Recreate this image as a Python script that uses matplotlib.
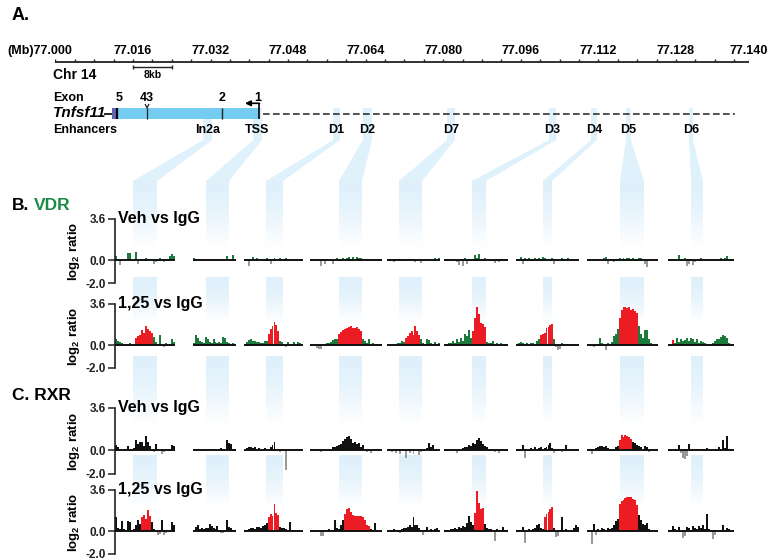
import numpy as np
import matplotlib
matplotlib.use('Agg')
import matplotlib.pyplot as plt
from matplotlib.patches import Polygon, Rectangle

plt.rcParams['font.family'] = ['Liberation Sans', 'DejaVu Sans']
plt.rcParams['font.weight'] = 'bold'
plt.rcParams['mathtext.fontset'] = 'custom'
plt.rcParams['mathtext.rm'] = 'Liberation Sans:bold'
plt.rcParams['mathtext.it'] = 'Liberation Sans:italic:bold'
plt.rcParams['mathtext.bf'] = 'Liberation Sans:bold'

W, H = 773, 560

# ---- genomic ruler (kb from 77.000 Mb) ----
ruler_kb = [0, 4, 8, 12, 16, 20, 24, 28, 32, 36, 40, 44, 48, 52, 56, 60, 64, 68, 72, 76,
            80, 84, 88, 92, 96, 100, 104, 108, 112, 116, 120, 124, 128, 132, 136, 140, 143.0]
label_kb = [0, 16, 32, 48, 64, 80, 96, 112, 128, 143.0]
label_txt = ['(Mb)77.000', '77.016', '77.032', '77.048', '77.064', '77.080', '77.096',
             '77.112', '77.128', '77.140']
scale_kb = [16, 24]

# ---- gene model (kb) ----
gene_kb = [11.7, 42.0]
exon5_block = [11.7, 12.8]
exon_marks = [12.8, 18.9, 34.4, 42.0]
exon_names = ['5', '43', '2', '1']
exon_label_kb = [13.1, 18.9, 34.4, 41.8]
dash_end_kb = 140.2

# ---- enhancers (kb) ----
enh_names = ['In2a', 'TSS', 'D1', 'D2', 'D7', 'D3', 'D4', 'D5', 'D6']
enh_start = [30.5, 40.8, 57.3, 63.4, 80.8, 101.8, 110.5, 117.7, 130.7]
enh_end = [32.3, 42.6, 58.7, 65.3, 82.4, 103.3, 111.7, 118.7, 131.5]

# ---- log2 ratio tracks: one list per enhancer window ----
vdr_veh = [
    [0.4, 0.1, -0.4, 0, 0.05, 0, 0.65, 0.6, 0, 0.1, 0.75, -0.35, 0.05, 0, 0.1, 0.15, 0.1, 0, 0.05, -0.3,
     -0.2, 0.05, 0.2, 0, -0.15, 0.05, 0.1, 0.4, 0.5, 0.35],
    [0.15, 0.1, 0.05, 0.1, 0.05, 0.1, 0, 0.05, 0.1, 0, 0.05, 0.1, 0, 0.05, 0.1, 0, 0.05, 0.4, 0, 0.05, 0.45, 0.1],
    [0.05, 0, -0.55, 0.05, 0.3, 0.05, 0.2, 0, 0.05, 0.1, 0, 0.15, 0.1, -0.35, 0.1, 0.2, -0.1, 0.05, 0.15, 0.1,
     0, 0.15, 0, 0.05, 0.1, 0, 0.05, 0, 0.05, 0],
    [0, 0, 0, 0.05, 0, -0.5, 0, -0.3, 0.05, 0, 0, -0.3, 0, 0.15, 0.05, 0, 0.2, 0.1, 0.15, 0.25, 0.1, 0.3,
     0.05, 0.3, 0.15, 0.2, 0.1, 0.05, 0.1, 0, 0.05, 0.1, 0, 0.05, 0, 0],
    [0.05, 0.1, 0, -0.15, 0.1, 0.05, 0.1, 0.05, 0, 0.05, 0.1, 0, 0, 0.05, -0.2, 0, 0.05, -0.25, 0.05, 0,
     0.05, 0, 0.1, 0.05, 0.15, 0, 0.15],
    [0.05, 0.1, 0.05, 0.1, 0.05, 0.1, -0.2, -0.4, 0.1, -0.5, 0.15, -0.3, 0.1, 0.05, 0.1, 0.45, 0.2, 0.5, 0.1,
     0.05, 0.15, 0, 0.05, 0, -0.1, -0.25, 0.1, -0.2, 0.05, 0, 0.05, 0.1],
    [0.05, 0.1, 0.25, -0.35, 0.15, 0.05, 0.2, 0.1, 0.05, 0.15, 0.1, 0.2, 0.1, 0.25, 0.15, 0.05, 0.1, 0.05,
     0.2, -0.3, 0, 0.1, 0.05, 0.2, 0.1, 0, 0.15, 0.05, 0, 0.1, 0.05, 0],
    [0, 0.05, 0, 0.05, 0.1, 0, 0.05, 0.05, 0.15, 0.25, -0.35, 0.1, 0.05, -0.15, 0.1, 0.05, 0.15, 0.1, 0.2,
     0.1, 0.2, 0.15, 0.1, 0.2, 0.05, 0.1, 0.15, 0.2, 0.05, -0.3, -0.6, 0.1, 0.05, 0, 0.05, 0],
    [0, 0.05, 0, 0.05, 0.1, 0.45, 0.05, 0, 0.15, -0.5, -0.3, 0.1, -0.4, -0.2, 0.05, 0, 0.15, 0.05, 0, 0.05,
     0.1, 0, 0.05, 0, 0, 0.05, 0.15, 0.1, 0.2, 0.35, 0.05, 0, 0.05],
]
vdr_veh_red = [None] * 9

vdr_125 = [
    [0.5, 0.4, 0.3, 0.2, 0.1, 0.05, 0.1, 0.15, 0.05, 0.1, 0.65, 0.8, 0.9, 1.3, 1.1, 1.65, 1.4, 1.25, 1.1,
     0.7, 0.3, 0.1, 0.9, 0.05, -0.2, 0.15, 0.1, 0.05, 0.55, 0.3],
    [0.2, 0.85, 0.6, 0.4, 0.3, 0.2, 0.75, 0.5, 0.3, 0.2, 0.5, 0.3, 0.15, 0.3, 0.2, 0.7, 0.6, 0.3, 0.15, 0.1, 0.2, 0.1],
    [0.1, 0.3, 0.45, 0.55, 0.4, 0.35, 0.3, 0.25, 0.15, 0.2, 0.35, 0.4, 1.0, 1.45, 1.65, 2.0, 1.8, 1.25,
     0.35, 0.25, 0.1, -0.15, 0.3, 0.1, 0.05, 0.25, 0.1, 0.3, 0.2, 0.05],
    [0, 0.05, -0.1, -0.25, -0.35, -0.3, 0.05, 0.1, 0.2, 0.15, 0.3, 0.45, 0.55, 0.5, 1.0, 1.15, 1.3, 1.45,
     1.5, 1.6, 1.65, 1.5, 1.5, 1.55, 1.4, 1.2, 0.55, 0.4, 0.2, 0.55, 0.1, 0.15, 0.05, 0.1, 0.05, 0.1],
    [0.05, 0.1, 0.05, 0.1, 0.05, 0.2, 0.15, 0.4, 0.3, 0.6, 0.8, 1.1, 1.2, 0.9, 1.65, 1.2, 0.85, 0.5, 0.2,
     0.1, 0.55, 0.45, 0.2, 0.1, 0.3, 0.1, 0.2],
    [0.05, 0.1, 0.15, 0.2, 0.35, 0.15, 0.5, 0.3, 0.6, 0.4, 1.0, 0.8, 1.3, 0.6, 1.2, 2.4, 3.3, 2.7, 1.9,
     1.85, 1.6, 0.3, 0.15, 0.2, 0.35, 0.1, 0.2, 0.1, 0.15, 0.05, 0.1, 0.05],
    [0.05, 0.2, 0.3, 0.15, 0.1, 0.2, 0.05, 0.15, 0.2, 0.1, 0.4, 0.55, 0.9, 1.0, 1.05, 1.5, 1.6, 1.8, 1.85,
     0.5, -0.2, -0.45, -0.3, 0.2, 0.1, 0.05, 0.1, 0.05, 0, 0.05, 0, 0.05],
    [0.05, 0.1, 0.05, -0.2, 0.05, 0.1, 0.65, 0.2, 0.1, -0.45, 0.15, 0.1, 0.3, 0.8, 1.0, 1.4, 2.4, 3.1,
     3.3, 3.35, 3.25, 3.3, 3.1, 3.2, 3.0, 2.8, 1.7, 1.0, 0.6, 1.35, 1.3, 0.5, 0.2, 0.1, 0.05, 0],
    [0.05, 0.05, 0.45, 0.2, 0.6, 0.3, 0.55, 0.4, 0.45, 0.65, 0.35, 0.6, 0.5, 0.3, 0.5, 0.2, 0.4, 0.3, 0.2,
     -0.1, 0.1, -0.1, 0.2, 0.4, 0.5, 0.55, 0.75, 0.9, 0.8, 0.6, 0.2, 0.05, 0],
]
vdr_125_red = [(10, 18), None, (12, 17), (14, 25), (9, 16), (14, 20), (12, 18), (16, 25), (2, 2)]

rxr_veh = [
    [0.45, 0.3, 0.1, 0.05, 0.1, 0.05, 0.35, 0.1, 0.05, 0.2, 0.9, 0.55, 0.75, 0.7, 0.4, 1.2, 0.75, 0.4,
     0.15, -0.1, 0.55, 0.1, 0.05, -0.3, -0.15, 0.05, 0.1, 0.05, 0.5, 0.35],
    [0.1, 0.05, 0.1, 0, -0.05, 0.05, 0.1, 0.05, 0.15, 0.05, 0.1, 0, 0.05, 0.1, 0.2, 0.1, 0.05, 0.9, 0.6, 0.55, 0.1, 0.05],
    [0.05, 0.2, 0.3, 0.25, 0.2, 0.3, 0.1, 0.2, 0.05, 0.1, 0.2, 0.05, 0.15, 0.3, 0.45, 0.75, 0.05, 0, -0.1,
     0, -0.05, -1.7, 0, 0.05, 0, 0.05, 0.1, 0, 0.1, 0.05],
    [0, 0.05, 0, 0.05, 0.05, -0.1, 0.05, 0, 0.05, 0.1, 0.05, 0.25, 0.3, 0.4, 0.5, 0.55, 0.8, 1.0, 1.15,
     1.2, 0.95, 0.6, 0.7, 0.55, 0.6, 0.3, 0.5, 0.15, -0.1, 0.05, -0.2, 0.05, 0, 0.05, 0, 0.05],
    [0, 0.05, -0.1, 0.05, -0.2, 0.05, -0.3, 0.05, 0, -0.6, 0.05, -0.2, 0.05, -0.3, 0, 0.05, -0.35, -0.1,
     0.05, 0.1, 0.2, 0.6, 0.3, 0.5, 0.1, 0, 0.05],
    [0.05, 0.1, 0.05, 0, 0.05, 0.1, -0.2, 0.1, 0.05, 0.2, 0.3, 0.25, 0.5, 0.4, 0.65, 0.55, 0.85, 1.05, 0.8,
     0.55, 0.35, 0.3, 0.1, 0.05, 0.05, -0.15, 0.05, -0.2, 0.1, 0.05, 0, 0.05],
    [0.05, 0.1, 0.05, 0.45, -0.6, 0.05, 0.1, 0.2, 0.05, 0.3, 0.05, 0.2, 0.25, 0.05, 0.2, 0.3, 0.45, 0.6,
     0.2, -0.2, 0.05, 0.1, 0.05, -0.1, 0.1, 0.45, 0.05, 0, 0.05, 0.1, 0.15, 0.05],
    [0.05, 0.1, -0.3, 0.05, 0.2, 0.3, 0.4, 0.35, 0.25, 0.35, 0.2, 0.1, 0.05, 0.15, 0.25, 0.35, 0.9, 1.35,
     1.1, 1.3, 1.2, 1.15, 0.95, 0.7, 0.6, 0.5, 0.35, 0.25, 0.15, 0.4, 0.3, -0.15, 0.05, 0, 0.05, 0],
    [0.05, 0, 0.05, 0.1, 0.05, 0.5, -0.2, -0.6, -0.7, -0.5, 0.55, 0.05, 0, 0.05, 0.1, 0, 0.05, 0.15, 0.05,
     0.2, 0.1, 0.05, 0, 0.05, 0.1, 0.3, 0.1, 0.85, 0.2, 1.2, 0.15, 0.05, 0],
]
rxr_veh_red = [None, None, None, None, None, None, None, (16, 22), None]

rxr_125 = [
    [1.2, 0.3, 0.15, 0.85, 0.2, 0.1, 0.85, 0.8, 0.1, 0.15, 0.5, 1.0, 0.6, 1.2, 1.4, 1.1, 1.85, 1.3, 0.8,
     0.2, 0.1, -0.3, -0.25, 1.0, -0.3, -0.2, 0.05, 0.1, 0.8, 0.55],
    [0.1, 0.35, 0.5, 0.2, 0.3, 0.15, 0.3, 0.25, 0.6, 0.45, 0.3, 0.2, 0.45, 0.1, -0.2, -0.15, 0.1, 1.0, 0.4, 0.3, 0.1, 0.05],
    [0.05, 0.1, 0.2, 0.25, 0.3, 0.2, 0.35, 0.4, 0.3, 0.45, 0.5, 0.7, 1.2, 1.5, 1.3, 2.35, 1.6, 1.45, 0.4,
     0.3, 0.25, 0.2, 0.1, 0.8, 0.1, 0.05, 0, 0.05, 0, 0.05],
    [0.05, 0, 0.05, 0.1, 0, -0.4, -0.4, 0.05, 0.1, 0.2, 0.05, 0.1, 1.0, 0.3, 0.2, 0.5, 1.0, 1.5, 1.9, 2.0,
     1.7, 1.45, 1.3, 1.35, 1.3, 1.3, 1.25, 1.0, 0.5, 0.45, 0.2, 0.1, 0.75, 0.1, 0.05, 0],
    [0.05, 0.1, 0.05, 0.15, 0.05, 0.1, -0.15, 0.2, 0.3, 0.25, 0.4, 0.55, 0.35, 1.25, 0.5, 0.55, 0.3, 0.1,
     -0.3, 0.1, 0.35, 0.05, 0.2, 0.1, 0.15, 0.3, 0.05],
    [0.05, 0.1, 0.05, 0.2, 0.15, 0.3, 0.2, 0.4, 0.3, 0.45, 0.35, 0.7, 1.3, 0.8, 0.5, 1.6, 3.5, 2.5, 1.9,
     2.0, 0.6, 0.3, 0.2, 0.15, 0.05, -0.9, 0.2, 0.1, 0.05, 0.4, 0.1, 0.05],
    [0.05, 0.1, 0.05, 0.4, -1.0, 0.1, 0.2, 0.05, 0.15, 0.3, 0.5, 0.65, 0.3, 0.2, 1.2, 1.5, 1.65, 1.9, 2.1,
     0.3, -0.5, -0.4, 0.1, 1.2, 0.1, 0.2, 0.05, 0.1, 0.05, 0.3, 0.5, 0.4],
    [0.05, 0.1, -1.1, 0.6, -0.3, 0.15, 0.05, 0.3, 0.2, 0.1, 0.25, 0.15, 0.3, 0.5, 0.9, 1.1, 2.4, 2.6, 2.7,
     2.9, 3.0, 2.95, 3.0, 2.85, 2.7, 2.3, 1.4, 1.0, 0.6, 0.5, 0.7, 0.2, 0.05, 0, 0.05, 0],
    [0.05, 0.1, 0.45, 0.2, 0.1, 0.4, 0.05, -0.6, -0.4, 0.4, 0.3, 0.1, 0.45, 0.3, 0.2, 0.45, 0.3, 0.5, 0.2,
     1.5, 0.2, 0.05, -0.7, -0.3, 0.1, 0.05, 0.1, 0.5, 0.1, 0.3, 0.2, 0.05, 0],
]
rxr_125_red = [(13, 17), None, (12, 17), (17, 29), None, (15, 19), (14, 18), (16, 25), None]

# ---- layout (pixels of the 773x560 canvas) ----
seg_x0 = [114.5, 193, 244, 310, 387, 444, 516, 587, 668]
seg_x1 = [175, 236, 303, 382, 440, 508, 579, 658, 734]
band_x0 = [133, 206, 266, 339, 399, 472, 543, 620, 691]
band_x1 = [157, 229, 283, 362, 422, 486, 552, 644, 703]
track_top = [219, 304, 408, 490]
track_bot = [283, 368, 474, 554]
fade_rows = [(180, 247), (277, 322), (356, 424), (455, 506)]

GREEN = '#1d7a3d'
RED = '#ec1c24'
GREY = '#9a9a9a'
BAND = (0.875, 0.945, 0.985)
X0_PX, PX_PER_KB = 55.4, 4.848


def kb2px(k):
    return X0_PX + PX_PER_KB * k


def frac(x0, y0, x1, y1):
    return [x0 / W, 1 - y1 / H, (x1 - x0) / W, (y1 - y0) / H]


fig = plt.figure(figsize=(W / 100, H / 100), dpi=100)
bg = fig.add_axes([0, 0, 1, 1])
bg.set_axis_off()

# light-blue enhancer connectors
for i in range(len(enh_names)):
    t0, t1 = kb2px(enh_start[i]), kb2px(enh_end[i])
    b0, b1 = band_x0[i], band_x1[i]
    bg.add_patch(Polygon([(t0, 108), (t1, 108), (t1, 140), (b1, 181), (b0, 181), (t0, 140)],
                         closed=True, facecolor=BAND, edgecolor='none', zorder=1))
    for ya, yb in fade_rows:
        t = np.linspace(0, 1, 120)
        grad = np.zeros((120, 1, 4))
        grad[:, 0, :3] = BAND
        grad[:, 0, 3] = np.clip(1 - t ** 1.6, 0, 1)
        bg.imshow(grad, extent=(b0, b1, yb, ya), aspect='auto', interpolation='bilinear', zorder=1)

bg.set_xlim(0, W)
bg.set_ylim(H, 0)

# panel letters and left labels
bg.text(12, 15, 'A.', fontsize=13, ha='left', va='center')
bg.text(12, 206, 'B.', fontsize=12.5, ha='left', va='center')
bg.text(34, 206, 'VDR', fontsize=12.5, ha='left', va='center', color='#1a8a44')
bg.text(12, 396, 'C. RXR', fontsize=12.5, ha='left', va='center')
bg.text(53, 75, 'Chr 14', fontsize=10, ha='left', va='center')
bg.text(53, 98, 'Exon', fontsize=9, ha='left', va='center')
bg.text(53, 113, 'Tnfsf11', fontsize=11, style='italic', ha='left', va='center')
bg.hlines(114, 104, 112, color='k', lw=1.2)
bg.text(53, 130, 'Enhancers', fontsize=9, ha='left', va='center')

# genomic ruler + gene model in kb coordinates
ag = fig.add_axes(frac(X0_PX, 0, kb2px(143.0), H))
ag.patch.set_alpha(0)
ag.set_axis_off()
ag.set_xlim(0, 143.0)
ag.set_ylim(H, 0)
ag.hlines(62, 0, 143.0, color='#222', lw=1.3)
ag.vlines(ruler_kb, 58.5, 62, color='#222', lw=1.0)
for k, s in zip(label_kb, label_txt):
    if s.startswith('(Mb)'):
        ag.annotate(s, (k, 51), xytext=(17, 0), textcoords='offset pixels',
                    ha='right', va='center', fontsize=9)
    else:
        ag.text(k, 51, s, ha='center', va='center', fontsize=9)
ag.hlines(67, scale_kb[0], scale_kb[1], color='#222', lw=1.0)
ag.vlines(scale_kb, 65, 69, color='#222', lw=1.0)
ag.text(sum(scale_kb) / 2, 75.5, '8kb', ha='center', va='center', fontsize=7.5)

ag.plot([gene_kb[1] + 0.8, dash_end_kb], [114, 114], color='#333', lw=1.2, ls=(0, (4, 2)))
ag.add_patch(Rectangle((gene_kb[0], 108), gene_kb[1] - gene_kb[0], 11,
                       facecolor='#74cdf1', edgecolor='none', zorder=3))
ag.add_patch(Rectangle((exon5_block[0], 108), exon5_block[1] - exon5_block[0], 11,
                       facecolor='#6366b3', edgecolor='none', zorder=4))
ag.vlines(exon_marks[0], 108, 119, color='k', lw=1.6, zorder=5)
ag.plot([exon_marks[1] - 0.35, exon_marks[1], exon_marks[1] + 0.35], [104.5, 108, 104.5],
        color='#222', lw=0.9, zorder=5)
ag.vlines(exon_marks[1], 108, 119, color='#222', lw=0.9, zorder=5)
ag.vlines(exon_marks[2], 108, 119, color='#222', lw=1.0, zorder=5)
ag.vlines(exon_marks[3], 103.3, 119, color='k', lw=1.2, zorder=5)
ag.annotate('', xy=(exon_marks[3] - 2.9, 103.3), xytext=(exon_marks[3] + 0.1, 103.3),
            arrowprops=dict(arrowstyle='-|>', lw=1.2, color='k', mutation_scale=8,
                            shrinkA=0, shrinkB=0), zorder=5)
for k, s in zip(exon_label_kb, exon_names):
    ag.text(k, 98, s, ha='center', va='center', fontsize=9)
for i, name in enumerate(enh_names):
    ag.text((enh_start[i] + enh_end[i]) / 2, 130, name, ha='center', va='center', fontsize=9)

# data tracks
tracks = [
    (vdr_veh, vdr_veh_red, GREEN, 'Veh vs IgG'),
    (vdr_125, vdr_125_red, GREEN, '1,25 vs IgG'),
    (rxr_veh, rxr_veh_red, '#111111', 'Veh vs IgG'),
    (rxr_125, rxr_125_red, '#111111', '1,25 vs IgG'),
]
for r, (segs, reds, pos_col, title) in enumerate(tracks):
    top, bot = track_top[r], track_bot[r]
    for s, vals in enumerate(segs):
        ax = fig.add_axes(frac(seg_x0[s], top, seg_x1[s], bot))
        ax.patch.set_alpha(0)
        n = len(vals)
        cols = []
        for i, v in enumerate(vals):
            if v < 0:
                cols.append(GREY)
            elif reds[s] is not None and reds[s][0] <= i <= reds[s][1]:
                cols.append(RED)
            else:
                cols.append(pos_col)
        ax.bar(np.arange(n), vals, width=1.0, color=cols, linewidth=0, zorder=2)
        ax.axhline(0, color='#111', lw=1.4, zorder=3)
        ax.set_xlim(-0.6, n - 0.4)
        ax.set_ylim(-2.0, 3.6)
        for sp in ['top', 'right', 'bottom']:
            ax.spines[sp].set_visible(False)
        ax.set_xticks([])
        if s == 0:
            ax.spines['left'].set_linewidth(1.2)
            ax.spines['left'].set_color('#222')
            ax.set_yticks([-2.0, 0.0, 3.6])
            ax.set_yticklabels(['-2.0', '0.0', '3.6'])
            ax.tick_params(axis='y', length=5, width=1.1, labelsize=8.5, pad=1, colors='#222')
        else:
            ax.spines['left'].set_visible(False)
            ax.set_yticks([])
    bg.text(118, top - 0.5, title, fontsize=11.5, ha='left', va='center')
    bg.text(74, (top + bot) / 2, r'log$_2$ ratio', fontsize=9.5, rotation=90,
            ha='center', va='center')

fig.savefig('out.png', dpi=100)
